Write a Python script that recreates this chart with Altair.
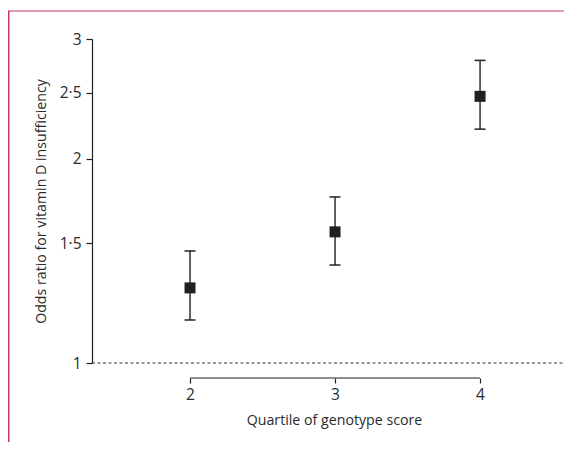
import altair as alt
import pandas as pd

# Data
quartiles = [2, 3, 4]
odds_ratio = [1.29, 1.56, 2.47]
ci_lower = [1.157, 1.394, 2.21]
ci_upper = [1.462, 1.756, 2.79]
y_ticks = [1, 1.5, 2, 2.5, 3]
x_ticks = [2, 3, 4]

df = pd.DataFrame({"q": quartiles, "or": odds_ratio, "lo": ci_lower, "hi": ci_upper})

FONT = "Open Sans"
INK = "#231f20"
TXT = "#2b2b2b"
FRAME = "#c8375f"
W, H = 471, 324

xscale = alt.Scale(domain=[1.324, 4.572], nice=False, zero=False)
yscale = alt.Scale(type="log", domain=[1, 3], nice=False)

xaxis = alt.Axis(values=x_ticks, format="d", title="Quartile of genotype score", offset=15,
                 domain=False, grid=False, tickSize=5, tickColor=INK, tickWidth=1.2,
                 labelFont=FONT, labelFontSize=15.5, labelColor=TXT, labelPadding=4,
                 titleFont=FONT, titleFontSize=14.2, titleFontWeight="normal", titleColor=TXT,
                 titlePadding=11, titleX=334 - 92, titleAnchor="start", titleAlign="center")
yaxis = alt.Axis(values=y_ticks, title="Odds ratio for vitamin D insufficiency", grid=False,
                 domainColor=INK, domainWidth=1.2, tickColor=INK, tickWidth=1.2, tickSize=6,
                 labelFont=FONT, labelFontSize=15.5, labelColor=TXT, labelPadding=5,
                 labelExpr="replace(toString(datum.value), '.', '·')",
                 titleFont=FONT, titleFontSize=14.2, titleFontWeight="normal",
                 titleColor=TXT, titlePadding=11)

base = alt.Chart(df)

ci = base.mark_rule(color=INK, strokeWidth=1.4).encode(
    x=alt.X("q:Q", scale=xscale, axis=xaxis),
    y=alt.Y("lo:Q", scale=yscale, axis=yaxis),
    y2="hi:Q",
)
cap_lo = base.mark_tick(orient="horizontal", color=INK, size=11, thickness=1.5, opacity=1).encode(
    x=alt.X("q:Q", scale=xscale), y=alt.Y("lo:Q", scale=yscale))
cap_hi = base.mark_tick(orient="horizontal", color=INK, size=11, thickness=1.5, opacity=1).encode(
    x=alt.X("q:Q", scale=xscale), y=alt.Y("hi:Q", scale=yscale))
pts = base.mark_square(color=INK, size=121, opacity=1).encode(
    x=alt.X("q:Q", scale=xscale), y=alt.Y("or:Q", scale=yscale))

ref = alt.Chart(alt.Data(values=[{}])).mark_rule(color="#333333", strokeWidth=1.2,
                                                  strokeDash=[3, 2.5]).encode(
    y=alt.datum(1, scale=yscale), x=alt.value(0), x2=alt.value(W))

xline = alt.Chart(alt.Data(values=[{}])).mark_rule(color=INK, strokeWidth=1.2).encode(
    x=alt.datum(x_ticks[0], scale=xscale), x2=alt.datum(x_ticks[-1]), y=alt.value(H + 15))

frame_top = alt.Chart(alt.Data(values=[{}])).mark_rule(color=FRAME, strokeWidth=1.2).encode(
    x=alt.value(-84), x2=alt.value(W + 10), y=alt.value(-28))
frame_left = alt.Chart(alt.Data(values=[{}])).mark_rule(color=FRAME, strokeWidth=1.6).encode(
    x=alt.value(-83.3), y=alt.value(-28), y2=alt.value(H + 80))

chart = alt.layer(frame_top, frame_left, ref, xline, ci, cap_lo, cap_hi, pts).properties(
    width=W, height=H,
    padding={"left": 84, "top": 31, "right": 1, "bottom": 79},
    autosize=alt.AutoSizeParams(type="none"),
).configure_view(stroke=None)

chart.save("out.html", embed_options={"renderer": "svg", "actions": False})
